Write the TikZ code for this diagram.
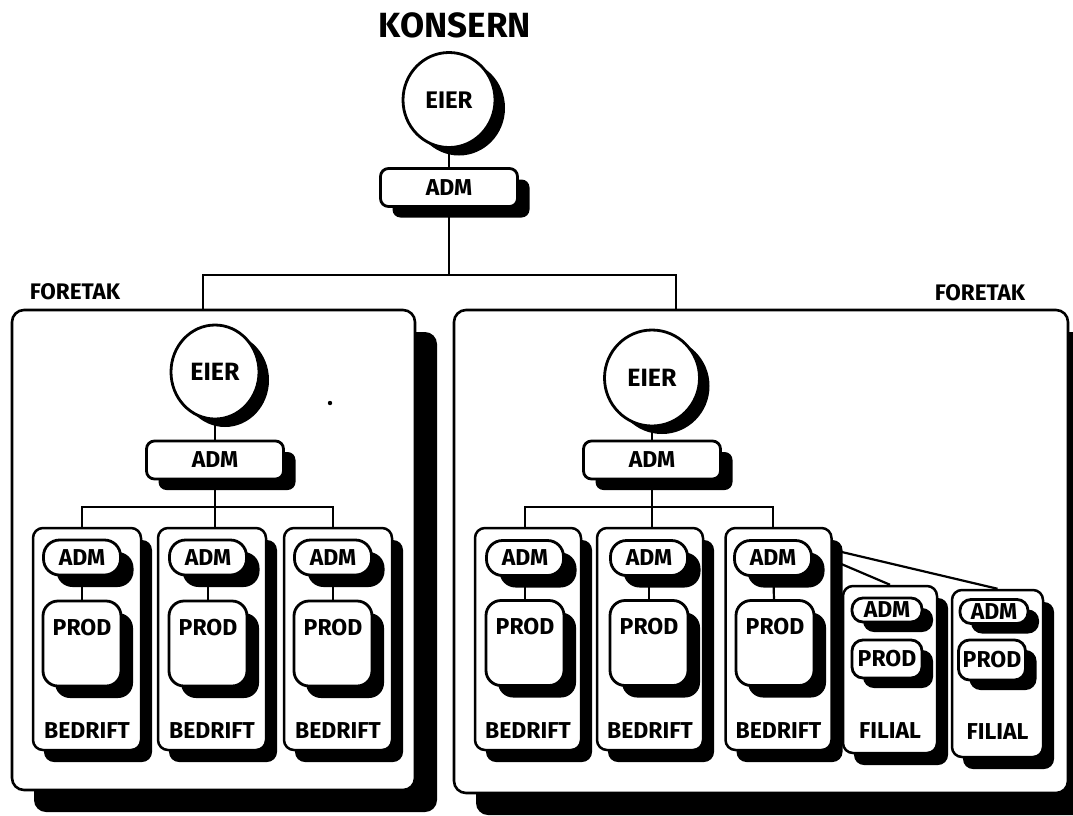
\documentclass[tikz,border=0pt]{standalone}
\usepackage{fontspec}
\setmainfont{Fira Sans}
\usetikzlibrary{shadows,shapes.geometric}
\tikzset{
  lab/.style={font=\bfseries\fontsize{23}{25}\selectfont},
  shad/.style 2 args={drop shadow={shadow xshift=#1,shadow yshift=#2,opacity=1,fill=black}},
  outl/.style={draw=black, fill=white, line width=2.8pt, inner sep=0pt},
  eier/.style={outl, ellipse, font=\bfseries\fontsize{24}{26}\selectfont, shad={10pt}{-8pt}},
  admbox/.style={outl, rectangle, rounded corners=8pt, minimum width=137pt, minimum height=38pt, lab, shad={12pt}{-11pt}},
  pill/.style={outl, rectangle, rounded corners=16pt, minimum width=77pt, minimum height=35pt, lab, shad={13pt}{-12pt}},
  fpill/.style={outl, rectangle, rounded corners=11pt, lab, shad={11pt}{-10pt}},
  prodbox/.style={outl, rectangle, rounded corners=15pt, minimum width=78pt, minimum height=85pt, shad={12pt}{-12pt},
    label={[lab, inner sep=0pt, anchor=north, yshift=-19pt]north:PROD}},
  fprod/.style={outl, rectangle, rounded corners=11pt, lab, shad={11pt}{-10pt}},
  unitbox/.style={outl, line width=2.5pt, rectangle, rounded corners=10pt, shad={11pt}{-12pt}},
  bedbox/.style={unitbox, minimum width=108pt, minimum height=222pt,
    label={[lab, inner sep=0pt, anchor=south, yshift=13pt]south:BEDRIFT}},
  filbox/.style={unitbox, label={[lab, inner sep=0pt, anchor=south, yshift=#1]south:FILIAL}},
  bigbox/.style={outl, line width=2.6pt, rectangle, rounded corners=12pt, shad={22pt}{-22pt}},
  conn/.style={line width=2.2pt},
  titletext/.style={font=\bfseries\fontsize{35}{38}\selectfont, inner sep=0pt},
  ftext/.style={font=\bfseries\fontsize{22.5}{24}\selectfont, inner sep=0pt},
}
\begin{document}
\begin{tikzpicture}[x=1pt,y=-1pt]
\useasboundingbox (0,0) rectangle (1073,815);
\fill[white] (0,0) rectangle (1073,815);
\clip (0,0) rectangle (1073,815);

% company boxes
\node[bigbox, minimum width=403pt, minimum height=480pt] (F1) at (213.5,550) {};
\node[bigbox, minimum width=614pt, minimum height=483pt] (F2) at (761,551.5) {};

% titles
\node[titletext] (kons) at (455,25) {KONSERN};
\node[ftext] (fl1) at (75,292) {FORETAK};
\node[ftext] (fl2) at (980,293) {FORETAK};

% group level
\node[eier, minimum width=92pt, minimum height=95pt] (E0) at (449,100) {EIER};
\node[admbox] (A0) at (449,187.5) {ADM};
\coordinate (j0) at (449,275);
\coordinate (f1t) at (203,310);
\coordinate (f2t) at (676,310);
\draw[conn] (E0) -- (A0);
\draw[conn] (A0) -- (j0);
\draw[conn] (f1t) |- (j0) -| (f2t);

% left company
\node[eier, minimum width=88pt, minimum height=94pt, font=\bfseries\fontsize{25}{27}\selectfont] (E1) at (215,372) {EIER};
\node[admbox] (A1) at (215,460) {ADM};
\coordinate (j1) at (215,507);
\draw[conn] (E1) -- (A1);
\draw[conn] (A1) -- (j1);

\node[bedbox] (B1) at (87,639) {};
\node[bedbox] (B2) at (212,639) {};
\node[bedbox] (B3) at (338,639) {};
\node[pill] (D1) at (82,557.5) {ADM};
\node[pill] (D2) at (208,557.5) {ADM};
\node[pill] (D3) at (333,557.5) {ADM};
\node[prodbox] (P1) at (82,643.5) {};
\node[prodbox] (P2) at (208,643.5) {};
\node[prodbox] (P3) at (333,643.5) {};
\draw[conn] (B1.north -| D1) |- (j1) -| (B3.north -| D3);
\draw[conn] (j1) -- (B2.north -| j1);
\draw[conn] (D1) -- (P1);
\draw[conn] (D2) -- (P2);
\draw[conn] (D3) -- (P3);

% right company
\node[eier, minimum width=95pt, minimum height=96pt, font=\bfseries\fontsize{25}{27}\selectfont] (E2) at (652,378) {EIER};
\node[admbox] (A2) at (652,460) {ADM};
\coordinate (j2) at (652,507);
\draw[conn] (E2) -- (A2);
\draw[conn] (A2) -- (j2);

\node[bedbox, minimum width=106pt] (R1) at (528,639) {};
\node[bedbox, minimum width=106pt] (R2) at (650,639) {};
\node[bedbox, minimum width=106pt] (R3) at (778.5,639) {};
\node[pill] (Q1) at (525,558) {ADM};
\node[pill] (Q2) at (649,558) {ADM};
\node[pill] (Q3) at (773,558) {ADM};
\node[prodbox] (S1) at (525,643) {};
\node[prodbox] (S2) at (649,643) {};
\node[prodbox] (S3) at (775,643) {};
\draw[conn] (R1.north -| Q1) |- (j2) -| (R3.north -| Q3);
\draw[conn] (j2) -- (R2.north -| j2);
\draw[conn] (Q1) -- (S1);
\draw[conn] (Q2) -- (S2);
\draw[conn] (Q3) -- (S3);

% branches
\node[filbox=16pt, minimum width=94pt, minimum height=167pt] (G1) at (890,669.5) {};
\node[filbox=19pt, minimum width=91pt, minimum height=167pt] (G2) at (997.5,673.5) {};
\node[fpill, minimum width=70pt, minimum height=24pt] (H1) at (887,610) {ADM};
\node[fpill, minimum width=68pt, minimum height=24pt] (H2) at (994,611.5) {ADM};
\node[fprod, minimum width=70pt, minimum height=38pt] (K1) at (887,659) {PROD};
\node[fprod, minimum width=67pt, minimum height=40pt] (K2) at (992,660) {PROD};
\draw[conn] ([xshift=8pt,yshift=-25pt]R3.north east) -- (G2.north);
\draw[conn] ([xshift=8pt,yshift=-37pt]R3.north east) -- (G1.north);

% speck
\fill (330,403) circle (2.2pt);
\end{tikzpicture}
\end{document}
